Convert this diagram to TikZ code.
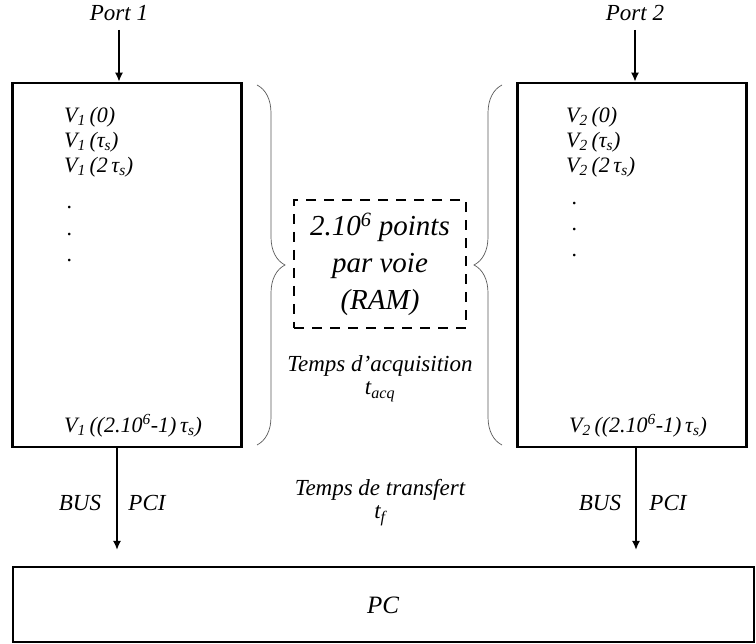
\documentclass[tikz,border=0pt]{standalone}
\usepackage{fontspec}
\setmainfont{Liberation Serif}
\usetikzlibrary{arrows.meta,decorations.pathreplacing}

\begin{document}
\begin{tikzpicture}[x=1pt,y=-1pt,
  mem/.style={rectangle,draw,line width=2.5pt,minimum width=229pt,minimum height=364pt,inner sep=0pt},
  txt/.style={font=\fontsize{23}{27}\selectfont\itshape,inner sep=0pt},
  val/.style={font=\fontsize{22}{26}\selectfont\itshape,inner sep=0pt,anchor=west},
  fl/.style={-{Latex[length=9pt,width=8pt]},line width=2pt},
  acc/.style={decorate,decoration={brace,amplitude=28pt},draw=black!65,line width=0.7pt}]
\useasboundingbox (0,0) rectangle (756,644);
% memoires des deux voies
\node[mem] (m1) at (127,265) {};
\node[mem] (m2) at (632,265) {};
\node[rectangle,draw,line width=2.5pt,minimum width=741pt,minimum height=75pt] (pc) at (383.5,604.5) {};
\node[txt,font=\fontsize{25}{29}\selectfont\itshape] (pclab) at (383,605) {PC};
% ports d'entree
\node[txt] (p1) at (119,13) {Port 1};
\node[txt] (p2) at (635,13) {Port 2};
\draw[fl,shorten <=9pt] (p1) -- (p1 |- m1.north);
\draw[fl,shorten <=9pt] (p2) -- (p2 |- m2.north);
% contenu voie 1
\node[val] (a0) at (64,117) {V\textsubscript{1}\,(0)};
\node[val] (a1) at (64,142) {V\textsubscript{1}\,(τ\textsubscript{s})};
\node[val] (a2) at (64,167) {V\textsubscript{1}\,(2\,τ\textsubscript{s})};
\node[val] (ad1) at (67,208) {.};
\node[val] (ad2) at (67,235) {.};
\node[val] (ad3) at (67,261) {.};
\node[val] (an) at (64,426) {V\textsubscript{1}\,((2.10\textsuperscript{6}-1)\,τ\textsubscript{s})};
% contenu voie 2
\node[val] (b0) at (566,117) {V\textsubscript{2}\,(0)};
\node[val] (b1) at (566,142) {V\textsubscript{2}\,(τ\textsubscript{s})};
\node[val] (b2) at (566,167) {V\textsubscript{2}\,(2\,τ\textsubscript{s})};
\node[val] (bd1) at (572,204) {.};
\node[val] (bd2) at (572,230) {.};
\node[val] (bd3) at (572,256) {.};
\node[val] (bn) at (569,426) {V\textsubscript{2}\,((2.10\textsuperscript{6}-1)\,τ\textsubscript{s})};
% accolades
\coordinate (g1) at (257,85);
\coordinate (g2) at (257,445);
\coordinate (d1) at (502,85);
\coordinate (d2) at (502,445);
\draw[acc] (g1) -- (g2);
\draw[acc] (d2) -- (d1);
\node[rectangle,draw,dashed,line width=2.5pt,dash pattern=on 10pt off 8pt,minimum width=172pt,minimum height=128pt,
  font=\fontsize{29}{37}\selectfont\itshape,align=center] (ram) at (380,264)
  {2.10\textsuperscript{6} points\\par voie\\(RAM)};
\node[txt] (acq) at (380,366) {Temps d’acquisition};
\node[txt] (tacq) at (380,392) {t\textsubscript{acq}};
% transfert vers le PC
\node[txt] (tr) at (380,490) {Temps de transfert};
\node[txt] (tf) at (380,516) {t\textsubscript{f}};
\coordinate (e1) at (117,550);
\coordinate (e2) at (636,550);
\draw[fl] (e1 |- m1.south) -- (e1);
\draw[fl] (e2 |- m2.south) -- (e2);
\node[txt] (bus1) at (80,503) {BUS};
\node[txt] (pci1) at (147,503) {PCI};
\node[txt] (bus2) at (600,503) {BUS};
\node[txt] (pci2) at (668,503) {PCI};
\end{tikzpicture}
\end{document}
